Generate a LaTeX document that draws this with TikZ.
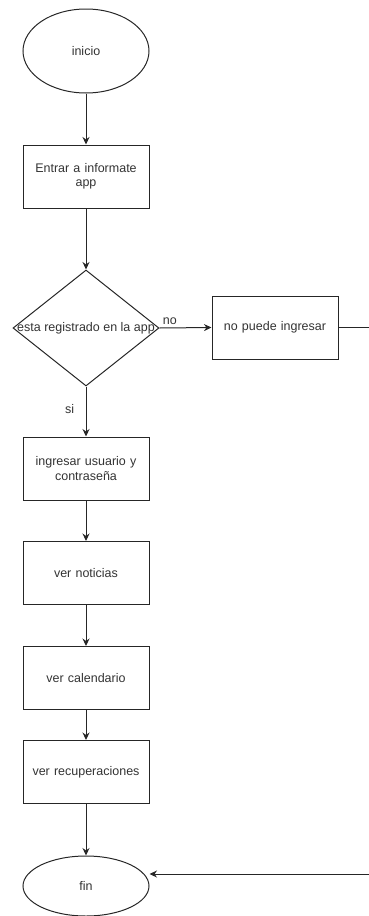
\documentclass[tikz,border=0pt]{standalone}
\usepackage{fontspec}
\setmainfont{Liberation Sans}
\usetikzlibrary{shapes.geometric,arrows.meta}
\begin{document}
\begin{tikzpicture}[x=1pt,y=-1pt,
  every node/.style={font=\fontsize{12.5}{14.5}\selectfont, text=black!80},
  terminal/.style={draw=black!85, line width=1pt, ellipse, inner sep=0pt, minimum width=126pt},
  process/.style={draw=black!85, line width=1pt, rectangle, inner sep=0pt,
    minimum width=126pt, minimum height=63pt, align=center, text width=120pt},
  decision/.style={draw=black!85, line width=1pt, diamond, inner sep=0pt,
    minimum width=146pt, minimum height=116pt},
  flow/.style={draw=black!85, line width=1pt, -{Stealth[length=7.5pt,width=7pt]}},
  plain/.style={draw=black!85, line width=1pt}
]
\useasboundingbox (0,0) rectangle (369,916);

\node[terminal, minimum height=84pt] (inicio) at (86,51) {inicio};
\node[process] (entrar) at (86,176.5) {Entrar a informate\\app};
\node[decision, label={[name=qtext, font=\fontsize{12.5}{14.5}\selectfont, text=black!80]center:esta registrado en la app}] (registrado) at (86,328) {};
\node[process] (nopuede) at (275,327.5) {no puede ingresar};
\node[process] (ingresar) at (86,468.5) {ingresar usuario y\\contraseña};
\node[process] (noticias) at (86,573) {ver noticias};
\node[process] (calendario) at (86,678) {ver calendario};
\node[process] (recuperaciones) at (86,772) {ver recuperaciones};
\node[terminal, minimum height=60pt] (fin) at (86,886) {fin};

\coordinate (salida) at (369,327.5);
\coordinate (retorno) at (369,874);

\draw[flow] (inicio) -- (entrar);
\draw[flow] (entrar) -- (registrado);
\draw[flow] (registrado.east) -- node[above, pos=0.2, yshift=-1pt] (no) {no} (nopuede.west);
\draw[flow] (registrado.south) -- node[left, pos=0.45, xshift=-8pt] (si) {si} (ingresar.north);
\draw[flow] (ingresar) -- (noticias);
\draw[flow] (noticias) -- (calendario);
\draw[flow] (calendario) -- (recuperaciones);
\draw[flow] (recuperaciones) -- (fin);
\draw[plain] (nopuede.east) -- (salida);
\draw[flow] (retorno) -- (retorno -| fin.east);
\end{tikzpicture}
\end{document}
